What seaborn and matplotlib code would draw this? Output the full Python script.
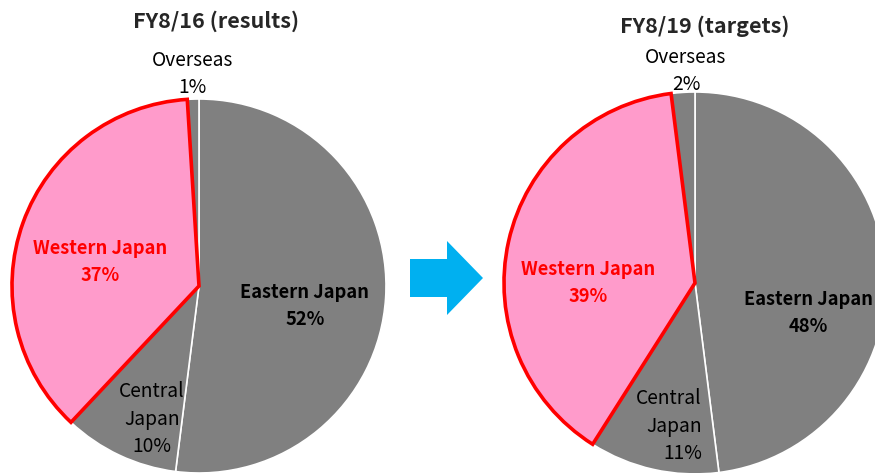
import matplotlib
matplotlib.use("Agg")
import matplotlib.pyplot as plt
from matplotlib.patches import FancyArrow
import seaborn as sns

# data
regions = ["Eastern Japan", "Central Japan", "Western Japan", "Overseas"]
fy16_share = [52, 10, 37, 1]
fy19_share = [48, 11, 39, 2]
titles = ["FY8/16 (results)", "FY8/19 (targets)"]

sns.set_theme(style="white")
plt.rcParams["font.family"] = ["Noto Sans CJK JP", "DejaVu Sans"]

GRAY = "#808080"
PINK = "#FF9BCB"
RED = "#FF0000"
colors = [GRAY, GRAY, PINK, GRAY]

W, H = 875, 473
fig = plt.figure(figsize=(W / 100, H / 100), dpi=100)
ax = fig.add_axes([0, 0, 1, 1])
ax.set_aspect("equal")
ax.axis("off")


def y(v):
    # image row -> axis y
    return H - v


def draw_pie(shares, cx, cy, r):
    wedges, _ = ax.pie(shares, colors=colors, startangle=90, counterclock=False,
                       center=(cx, y(cy)), radius=r,
                       wedgeprops=dict(edgecolor="white", linewidth=1.2))
    w = wedges[regions.index("Western Japan")]
    w.set_edgecolor(RED)
    w.set_linewidth(2.6)
    w.set_zorder(5)
    return wedges


draw_pie(fy16_share, 199, 286, 187)
draw_pie(fy19_share, 695, 283, 191)
ax.set_xlim(0, W)
ax.set_ylim(0, H)

# titles
ax.text(216, y(21), titles[0], ha="center", va="center", fontsize=15.5, fontweight="bold")
ax.text(705, y(26), titles[1], ha="center", va="center", fontsize=15.5, fontweight="bold")

reg = dict(ha="center", va="center", fontsize=13.8, linespacing=1.42, zorder=10, color="black")
bold = dict(ha="center", va="center", fontsize=13.2, linespacing=1.5, zorder=10, fontweight="bold")


def pct(v):
    return f"{v}%"


# left pie labels
ax.text(193, y(74), f"Overseas\n{pct(fy16_share[3])}", **reg)
ax.text(100, y(262), f"Western Japan\n{pct(fy16_share[2])}", color=RED, **bold)
ax.text(305, y(306), f"Eastern Japan\n{pct(fy16_share[0])}", color="black", **bold)
ax.text(152, y(419), f"Central\nJapan\n{pct(fy16_share[1])}", **reg)

# right pie labels
ax.text(686, y(71), f"Overseas\n{pct(fy19_share[3])}", **reg)
ax.text(588, y(283), f"Western Japan\n{pct(fy19_share[2])}", color=RED, **bold)
ax.text(808, y(313), f"Eastern Japan\n{pct(fy19_share[0])}", color="black", **bold)
ax.text(669, y(426), f"Central\nJapan\n{pct(fy19_share[1])}", multialignment="right", **reg)

# arrow between the pies
ax.add_patch(FancyArrow(410, y(278), 73, 0, width=38, head_width=74, head_length=36,
                        length_includes_head=True, color="#00B0F0", linewidth=0))

fig.savefig("out.png", dpi=100)
